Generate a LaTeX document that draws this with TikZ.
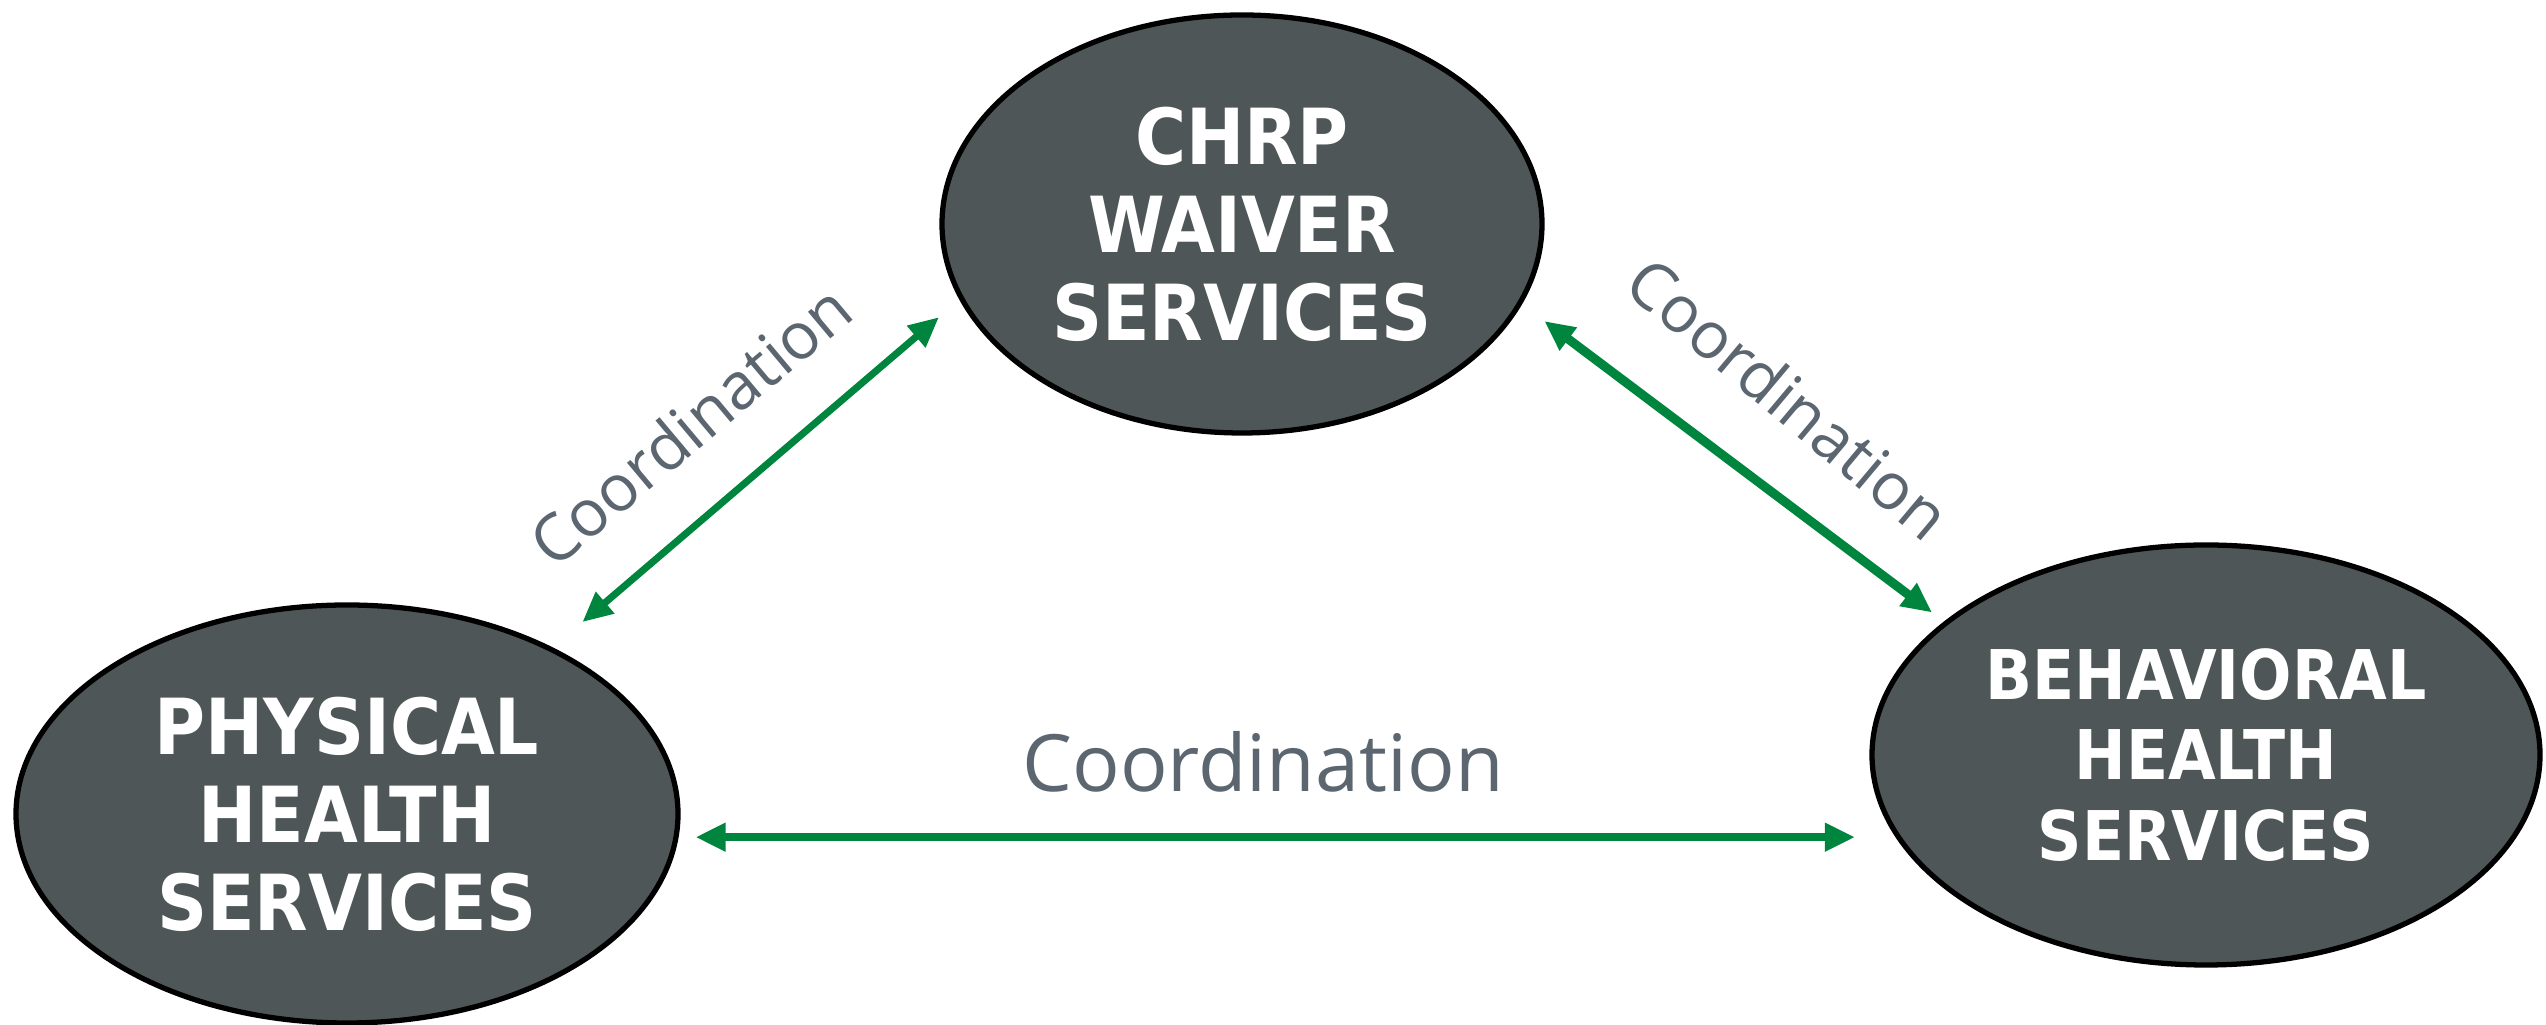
\documentclass[tikz,border=0pt]{standalone}
\usepackage{fontspec}
\setmainfont{Open Sans}
\newfontfamily\ovalfont{DejaVu Sans Condensed}
\usepackage{tikz}
\usetikzlibrary{shapes.geometric}
\usetikzlibrary{arrows.meta}
\definecolor{ovalgray}{HTML}{4E5657}
\definecolor{linkgreen}{HTML}{00853E}
\definecolor{labelgray}{HTML}{5B6670}

\begin{document}
\begin{tikzpicture}[
  service/.style={ellipse, draw=black, line width=1.5pt, fill=ovalgray, text=white,
    inner sep=0pt, align=center, font=\ovalfont\bfseries\fontsize{22}{25}\selectfont},
  link/.style={linkgreen, {Triangle[length=0.3cm,width=0.27cm]}-{Triangle[length=0.3cm,width=0.27cm]}},
  linklabel/.style={text=labelgray, inner sep=0pt}
]
\useasboundingbox (0,0) rectangle (25.46,10.25);
\node [service, minimum width=6cm, minimum height=4.18cm] (chrp) at (12.42,8.01) {CHRP\\WAIVER\\SERVICES};
\node [service, minimum width=6.62cm, minimum height=4.18cm] (phys) at (3.47,2.11) {PHYSICAL\\HEALTH\\SERVICES};
\node [service, minimum width=6.68cm, minimum height=4.2cm, font=\ovalfont\bfseries\fontsize{19.5}{23}\selectfont] (behav) at (22.06,2.70) {BEHAVIORAL\\HEALTH\\SERVICES};

\draw [link, line width=2pt, shorten <=0.39cm, shorten >=0.27cm] (phys.39) -- (chrp.195.5);
\draw [link, line width=2.6pt, shorten <=0.28cm, shorten >=0.15cm] (chrp.344.5) -- (behav.153);
\draw [link, line width=2.3pt, shorten <=0.17cm, shorten >=0.38cm] (phys.356.2) -- (behav.194.7 |- phys.356.2);

\node [linklabel, rotate=40, font=\fontsize{18.5}{20}\selectfont] (lblleft) at (6.90,6.00) {Coordination};
\node [linklabel, rotate=-40, font=\fontsize{18.5}{20}\selectfont] (lblright) at (17.89,6.27) {Coordination};
\node [linklabel, font=\fontsize{22.5}{24}\selectfont] (lblbottom) at (12.63,2.63) {Coordination};
\end{tikzpicture}
\end{document}
